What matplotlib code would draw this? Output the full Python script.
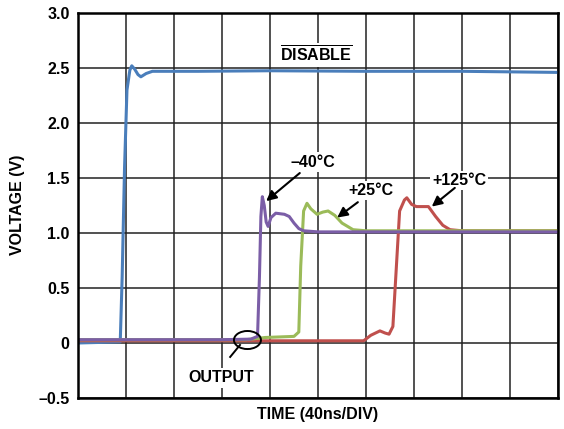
# scope capture: DISABLE edge and output response at three temperatures
import matplotlib
matplotlib.use("Agg")
import matplotlib.pyplot as plt
from matplotlib.patches import Ellipse

plt.rcParams["font.family"] = ["Liberation Sans", "DejaVu Sans"]
plt.rcParams["font.weight"] = "bold"
plt.rcParams["mathtext.fontset"] = "custom"
plt.rcParams["mathtext.bf"] = "Liberation Sans:bold"
plt.rcParams["mathtext.rm"] = "Liberation Sans:bold"

# time in divisions (40 ns/div), voltage in V
disable_t = [0, 0.88, 0.92, 0.97, 1.02, 1.08, 1.12, 1.18, 1.25, 1.31, 1.42, 1.55, 2.5, 4, 6, 8, 10]
disable_v = [0.0, 0.01, 0.6, 1.6, 2.3, 2.48, 2.52, 2.49, 2.44, 2.42, 2.45, 2.47, 2.47, 2.475, 2.47, 2.47, 2.46]

m40_t = [0, 3.0, 3.6, 3.74, 3.78, 3.81, 3.84, 3.88, 3.92, 3.96, 4.02, 4.12, 4.3, 4.4, 4.5, 4.6, 4.7, 5.0, 10]
m40_v = [0.03, 0.03, 0.035, 0.06, 0.6, 1.15, 1.33, 1.25, 1.1, 1.06, 1.14, 1.18, 1.17, 1.15, 1.09, 1.04, 1.02, 1.01, 1.01]

p25_t = [0, 3.5, 3.9, 4.5, 4.6, 4.64, 4.7, 4.77, 4.85, 4.98, 5.1, 5.21, 5.35, 5.5, 5.73, 6, 10]
p25_v = [0.03, 0.03, 0.05, 0.06, 0.1, 0.7, 1.2, 1.27, 1.22, 1.17, 1.19, 1.2, 1.16, 1.09, 1.03, 1.02, 1.02]

p125_t = [0, 5.95, 6.1, 6.29, 6.4, 6.48, 6.56, 6.62, 6.7, 6.8, 6.85, 6.95, 7.05, 7.3, 7.45, 7.6, 7.75, 8, 10]
p125_v = [0.02, 0.02, 0.07, 0.11, 0.09, 0.08, 0.15, 0.6, 1.2, 1.3, 1.32, 1.26, 1.24, 1.24, 1.15, 1.07, 1.03, 1.02, 1.02]

yticks = [-0.5, 0, 0.5, 1.0, 1.5, 2.0, 2.5, 3.0]
ylabels = ["\u20130.5", "0", "0.5", "1.0", "1.5", "2.0", "2.5", "3.0"]

fs = 11.5
fig = plt.figure(figsize=(5.64, 4.29), dpi=100)
ax = fig.add_axes([0.1383, 0.0723, 0.8511, 0.8974])

lw = 2.2
ax.plot(disable_t, disable_v, color="#4a7ebb", lw=lw, zorder=3)
ax.plot(p125_t, p125_v, color="#c0504d", lw=lw, zorder=4)
ax.plot(p25_t, p25_v, color="#9bbb59", lw=lw, zorder=5)
ax.plot(m40_t, m40_v, color="#7b5ea7", lw=lw, zorder=6)

ax.set_xlim(0, 10)
ax.set_ylim(-0.5, 3.0)
ax.set_xticks(range(11))
ax.set_xticklabels([])
ax.set_yticks(yticks)
ax.set_yticklabels(ylabels, fontsize=fs, fontweight="bold")
ax.tick_params(length=0, pad=6)
ax.grid(True, color="#222222", lw=1.1)
ax.set_axisbelow(True)
for s in ax.spines.values():
    s.set_linewidth(1.8)
    s.set_zorder(10)

fig.text(18 / 564, 1 - 205 / 429, "VOLTAGE (V)", fontsize=fs, fontweight="bold",
         rotation=90, ha="center", va="center")
fig.text(318 / 564, 1 - 415 / 429, "TIME (40ns/DIV)", fontsize=fs, fontweight="bold",
         ha="center", va="center")

box = dict(facecolor="white", edgecolor="none", pad=1.5)
ax.text(4.96, 2.62, r"$\overline{\mathbf{DISABLE}}$", fontsize=fs, ha="center", va="center",
        bbox=box, zorder=8)

arrow = dict(arrowstyle="-|>", color="black", lw=1.5, mutation_scale=15, shrinkA=0, shrinkB=0)
ax.text(4.9, 1.645, "\u201340\u00b0C", fontsize=fs, fontweight="bold", ha="center", va="center",
        bbox=box, zorder=8)
ax.annotate("", xy=(3.92, 1.29), xytext=(4.62, 1.545), arrowprops=arrow, zorder=9)
ax.text(6.1, 1.39, "+25\u00b0C", fontsize=fs, fontweight="bold", ha="center", va="center",
        bbox=box, zorder=8)
ax.annotate("", xy=(5.4, 1.14), xytext=(5.83, 1.28), arrowprops=arrow, zorder=9)
ax.text(7.94, 1.48, "+125\u00b0C", fontsize=fs, fontweight="bold", ha="center", va="center",
        bbox=box, zorder=8)
ax.annotate("", xy=(7.37, 1.24), xytext=(7.85, 1.41), arrowprops=arrow, zorder=9)

ax.text(2.98, -0.318, "OUTPUT", fontsize=fs, fontweight="bold", ha="center", va="center",
        bbox=box, zorder=8)
ax.add_patch(Ellipse((3.53, 0.027), 0.5625, 0.164, fill=False, edgecolor="black", lw=1.4, zorder=9))
ax.plot([3.375, 3.17], [-0.018, -0.127], color="black", lw=1.4, zorder=9)

fig.savefig("out.png", dpi=100)
